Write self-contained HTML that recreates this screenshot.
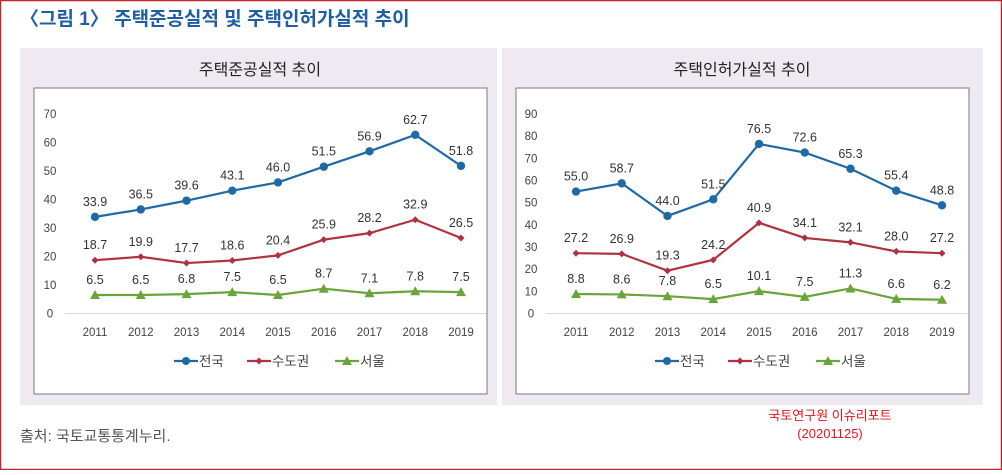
<!DOCTYPE html>
<html><head><meta charset="utf-8"><style>
body{margin:0;width:1002px;height:470px;overflow:hidden;background:#fff;font-family:"Liberation Sans","Noto Sans CJK KR",sans-serif}
</style></head><body>
<svg width="1002" height="470" xmlns="http://www.w3.org/2000/svg" font-family="Liberation Sans, Noto Sans CJK KR, sans-serif">
<rect x="0.5" y="0.5" width="1001" height="469" fill="#fff" stroke="#c0262c" stroke-width="1.5"/>
<text x="20" y="25" font-size="19" font-weight="bold" fill="#1f5ea3">〈그림 1〉 주택준공실적 및 주택인허가실적 추이</text>
<rect x="20" y="48" width="477" height="357" fill="#efeaf2"/>
<rect x="502" y="48" width="481" height="357" fill="#efeaf2"/>
<rect x="34" y="88" width="453" height="306" fill="#fff" stroke="#7a7a80" stroke-width="1"/>
<rect x="516" y="88" width="453" height="306" fill="#fff" stroke="#7a7a80" stroke-width="1"/>
<text x="260" y="75" font-size="16" text-anchor="middle" fill="#222">주택준공실적 추이</text>
<text x="742" y="75" font-size="16" text-anchor="middle" fill="#222">주택인허가실적 추이</text>
<g id="c1"></g><g id="c2"></g>
<text x="20" y="441" font-size="15" fill="#555">출처: 국토교통통계누리.</text>
<text x="830" y="420" font-size="13" text-anchor="middle" fill="#e8141c">국토연구원 이슈리포트</text>
<text x="830" y="438" font-size="13" text-anchor="middle" fill="#e8141c">(20201125)</text>
</svg>
<script>
const years=["2011","2012","2013","2014","2015","2016","2017","2018","2019"];
const seriesNames=["전국","수도권","서울"];
const comp1=[33.9,36.5,39.6,43.1,46.0,51.5,56.9,62.7,51.8];
const comp2=[18.7,19.9,17.7,18.6,20.4,25.9,28.2,32.9,26.5];
const comp3=[6.5,6.5,6.8,7.5,6.5,8.7,7.1,7.8,7.5];
const perm1=[55.0,58.7,44.0,51.5,76.5,72.6,65.3,55.4,48.8];
const perm2=[27.2,26.9,19.3,24.2,40.9,34.1,32.1,28.0,27.2];
const perm3=[8.8,8.6,7.8,6.5,10.1,7.5,11.3,6.6,6.2];
const ticks1=[0,10,20,30,40,50,60,70];
const ticks2=[0,10,20,30,40,50,60,70,80,90];
const NS="http://www.w3.org/2000/svg";
const colors=["#1f6aa5","#b0323f","#6aa43a"];
function mk(p,t,a){const e=document.createElementNS(NS,t);for(const k in a)e.setAttribute(k,a[k]);p.appendChild(e);return e;}
function draw(gid,x0,ymax,ticks,series,pfx){
  const g=document.getElementById(gid);
  const step=45.75,y0=313.5,yTop=114;
  const X=i=>x0+i*step;
  const Y=v=>y0-(v/ymax)*(y0-yTop);
  const ax=mk(g,"line",{x1:x0-30,x2:x0+step*8+25,y1:y0,y2:y0,stroke:"#d9d9d9"});
  
  
  ticks.forEach(t=>{const e=mk(g,"text",{x:x0-45,y:Y(t)+4,"font-size":"11.5","text-anchor":"middle",fill:"#444"});e.textContent=t;
    
    });
  years.forEach((y,i)=>{const e=mk(g,"text",{x:X(i),y:336,"font-size":"11.5","text-anchor":"middle",fill:"#444"});e.textContent=y;
    
    });
  series.forEach((s,k)=>{
    const pl=mk(g,"polyline",{points:s.map((v,i)=>X(i)+","+Y(v)).join(" "),fill:"none",stroke:colors[k],"stroke-width":"2.2"});
    
    
    s.forEach((v,i)=>{
      let m;
      const x=X(i),y=Y(v);
      if(k==0)m=mk(g,"circle",{cx:x,cy:y,r:4.2,fill:colors[k]});
      else if(k==1)m=mk(g,"polygon",{points:`${x},${y-3.5} ${x+3.5},${y} ${x},${y+3.5} ${x-3.5},${y}`,fill:colors[k]});
      else m=mk(g,"polygon",{points:`${x},${y-5} ${x+5},${y+4} ${x-5},${y+4}`,fill:colors[k]});
      
      
      const t=mk(g,"text",{x:x,y:y-11,"font-size":"12.5","text-anchor":"middle",fill:"#333"});
      t.textContent=v.toFixed(1);
      
      
    });
  });
  const lx=[x0+79,x0+152,x0+240];
  seriesNames.forEach((n,k)=>{
    const l=lx[k];
    mk(g,"line",{x1:l,x2:l+24,y1:361,y2:361,stroke:colors[k],"stroke-width":"2.2"});
    if(k==0)mk(g,"circle",{cx:l+12,cy:361,r:4,fill:colors[k]});
    else if(k==1)mk(g,"polygon",{points:`${l+12},357.5 ${l+15.5},361 ${l+12},364.5 ${l+8.5},361`,fill:colors[k]});
    else mk(g,"polygon",{points:`${l+12},356 ${l+17},365 ${l+7},365`,fill:colors[k]});
    const t=mk(g,"text",{x:l+25,y:366,"font-size":"13.5",fill:"#444"});t.textContent=n;
    
    
  });
}
draw("c1",95,70,ticks1,[comp1,comp2,comp3],"completion");
draw("c2",576,90,ticks2,[perm1,perm2,perm3],"permit");
</script>
</body></html>
